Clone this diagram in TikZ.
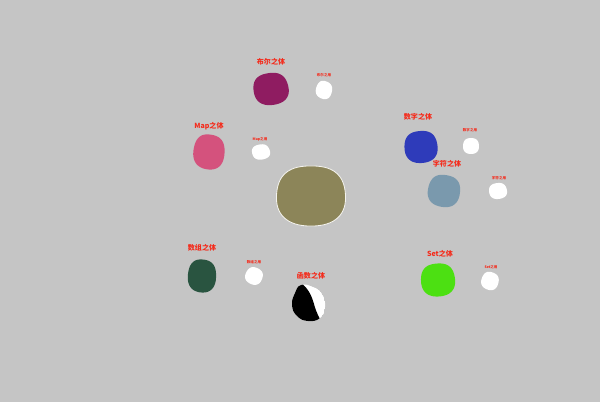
\documentclass[tikz,border=0pt]{standalone}
\usepackage{fontspec}
\newfontfamily\cjk{Noto Sans CJK SC}
\begin{document}
\begin{tikzpicture}[x=0.025cm,y=-0.025cm]

\definecolor{grund}{rgb}{0.773,0.773,0.773}
\definecolor{rot}{rgb}{0.96,0.16,0.10}
\definecolor{oliv}{rgb}{0.55,0.52,0.35}
\definecolor{lila}{rgb}{0.56,0.11,0.38}
\definecolor{rosa}{rgb}{0.83,0.32,0.49}
\definecolor{blau}{rgb}{0.18,0.23,0.73}
\definecolor{grau}{rgb}{0.48,0.60,0.68}
\definecolor{tanne}{rgb}{0.16,0.33,0.25}
\definecolor{gruen}{rgb}{0.30,0.88,0.07}

\tikzset{
	titext/.style={text=rot,font=\cjk\bfseries\fontsize{5}{6}\selectfont,inner sep=0pt},
	yongtext/.style={text=rot,font=\cjk\bfseries\fontsize{2.5}{3}\selectfont,inner sep=0pt}
}

\def\blobform{
	plot[domain=0:355,samples=72,smooth cycle,variable=\t]
		({cos(\t)*(1-0.03*cos(4*\t)+0.06*sin(\t))},{sin(\t)*(1-0.03*cos(4*\t)+0.06*sin(\t))-0.06})
}

\def\blob#1#2#3#4#5#6{
	\begin{scope}[shift={(#1,#2)},xscale=#3,yscale=#4,rotate=#5]
		\fill[#6] \blobform;
	\end{scope}
}

\fill[grund] (0,0) rectangle (600,402);
\useasboundingbox (0,0) rectangle (600,402);

\begin{scope}[shift={(311,196)},xscale=35.5,yscale=31]
	\fill[oliv,draw=white!90!oliv,line width=0.6pt] \blobform;
\end{scope}

\blob{271}{89}{18}{16.5}{10}{lila}
\blob{324}{90}{8.2}{9.2}{-20}{white}
\node[titext] (tbool) at (271,62) {布尔之体};
\node[yongtext] (ybool) at (324,75) {布尔之用};

\blob{209}{152}{16}{18}{-8}{rosa}
\blob{261}{152}{9.2}{7.8}{15}{white}
\node[titext] (tmap) at (209,126) {Map之体};
\node[yongtext] (ymap) at (260,139) {Map之用};

\blob{421}{147}{17}{16.5}{5}{blau}
\blob{471}{146}{8.2}{8.2}{0}{white}
\node[titext] (tzahl) at (418,117) {数字之体};
\node[yongtext] (yzahl) at (470,130) {数字之用};

\blob{444}{191}{16.5}{16.5}{-10}{grau}
\blob{498}{191}{9.2}{8.2}{10}{white}
\node[titext] (tzeichen) at (447,164) {字符之体};
\node[yongtext] (yzeichen) at (499,178) {字符之用};

\blob{202}{276}{14.5}{17}{-5}{tanne}
\blob{254}{276}{8.8}{8.8}{-25}{white}
\node[titext] (tfeld) at (202,248) {数组之体};
\node[yongtext] (yfeld) at (254,262) {数组之用};

\blob{438}{280}{17.5}{17}{5}{gruen}
\blob{490}{281}{8.8}{9.2}{-20}{white}
\node[titext] (tset) at (440,254) {Set之体};
\node[yongtext] (yset) at (491,267) {Set之用};

\def\funkform{
	plot[smooth cycle,tension=0.8] coordinates
		{(301,285) (313,287) (322,294) (325,307) (320,318) (308,321) (297,316) (292,305) (295,293)}
}
\begin{scope}
	\clip \funkform;
	\fill[white] \funkform;
	\fill[black] (290,283) -- (301,283) .. controls (309,289) and (312,297) .. (314,304)
		.. controls (316,312) and (319,317) .. (322,323) -- (290,323) -- cycle;
\end{scope}
\node[titext] (tfunk) at (311,276) {函数之体};

\end{tikzpicture}
\end{document}
